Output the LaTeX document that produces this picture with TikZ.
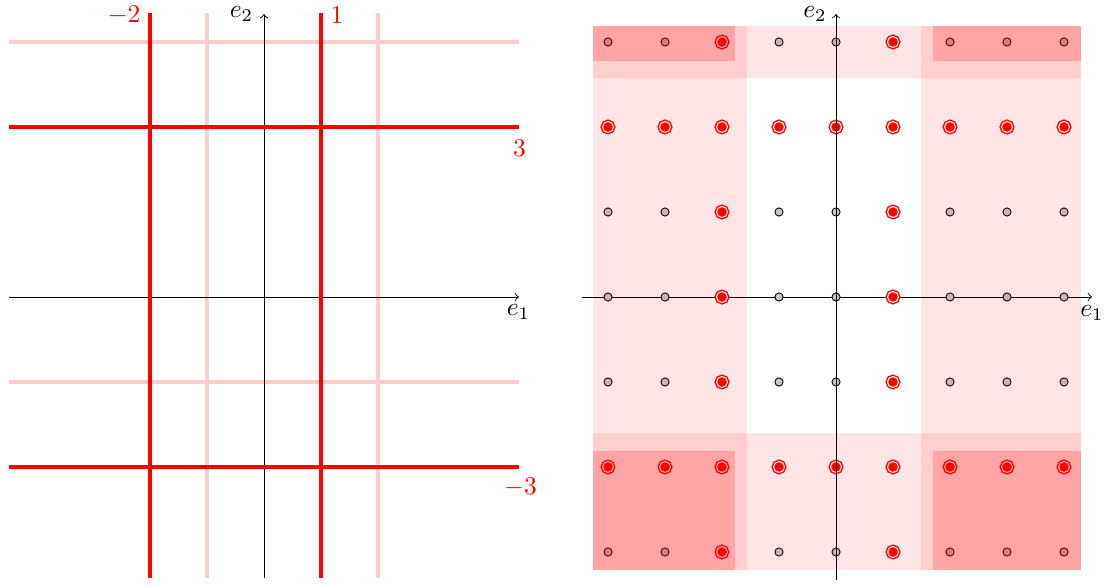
\documentclass[tikz,border=0pt]{standalone}
\begin{document}
\begin{tikzpicture}[x=0.392pt,y=-0.392pt,
  axis/.style={line width=0.35pt,->},
  faintline/.style={red!20,line width=1.25pt},
  boldline/.style={red,line width=1.25pt},
  lab/.style={inner sep=0pt},
  gdot/.style={circle,draw=black,fill=black!22,line width=0.35pt,minimum size=3.2pt,inner sep=0pt},
  rdot/.style={circle,draw=red,fill=red,line width=0.55pt,double=white,double distance=0.45pt,minimum size=4.3pt,inner sep=0pt},
  band/.style={fill=red,fill opacity=0.1},
  corner/.style={fill=red,fill opacity=0.2}
]
\useasboundingbox (0,0) rectangle (1105,586);

% ---------- left panel ----------
\draw[faintline] (207,13) -- (207,578);
\draw[faintline] (378,13) -- (378,578);
\draw[faintline] (9,42) -- (519,42);
\draw[faintline] (9,382) -- (519,382);

\coordinate (L1s) at (9,297);   \coordinate (L1e) at (519,297);
\coordinate (L2s) at (264,578); \coordinate (L2e) at (264,14);
\draw[axis] (L1s) -- (L1e);
\draw[axis] (L2s) -- (L2e);
\node[lab] (le1) at (518.5,312) {$e_1$};
\node[lab] (le2) at (241.5,14) {$e_2$};

\coordinate (va1) at (150,13); \coordinate (va2) at (150,578);
\coordinate (vb1) at (321,13); \coordinate (vb2) at (321,578);
\coordinate (ha1) at (9,127);  \coordinate (ha2) at (519,127);
\coordinate (hb1) at (9,467);  \coordinate (hb2) at (519,467);
\draw[boldline] (va1) -- (va2);
\draw[boldline] (vb1) -- (vb2);
\draw[boldline] (ha1) -- (ha2);
\draw[boldline] (hb1) -- (hb2);
\node[lab,red] (lm2) at (124,15) {$-2$};
\node[lab,red] (l1) at (337,15) {$1$};
\node[lab,red] (l3) at (519.5,148) {$3$};
\node[lab,red] (lm3) at (520.5,487) {$-3$};

% ---------- right panel ----------
\coordinate (R1s) at (582,297); \coordinate (R1e) at (1092,297);
\coordinate (R2s) at (836,580); \coordinate (R2e) at (836,14);
\draw[axis] (R1s) -- (R1e);

\foreach \i in {-4,...,4}{
  \foreach \j in {-3,...,3}{
    \pgfmathtruncatemacro{\isred}{(\i==-2)||(\i==1)||(\j==2)||(\j==-2)}
    \ifnum\isred=1
      \node[rdot] (p\i\j) at ({836+57*\i},{297-85*\j}) {};
    \else
      \node[gdot] (p\i\j) at ({836+57*\i},{297-85*\j}) {};
    \fi
  }
}

\fill[band] (593,26) rectangle (747,570);
\fill[band] (921,26) rectangle (1081,570);
\fill[band] (593,26) rectangle (1081,78);
\fill[band] (593,433) rectangle (1081,570);
\fill[corner] (593,26) rectangle (735,61);
\fill[corner] (933,26) rectangle (1081,61);
\fill[corner] (593,451) rectangle (735,570);
\fill[corner] (933,451) rectangle (1081,570);

\draw[axis] (R2s) -- (R2e);
\node[lab] (re1) at (1092,313) {$e_1$};
\node[lab] (re2) at (815,14) {$e_2$};
\end{tikzpicture}
\end{document}
